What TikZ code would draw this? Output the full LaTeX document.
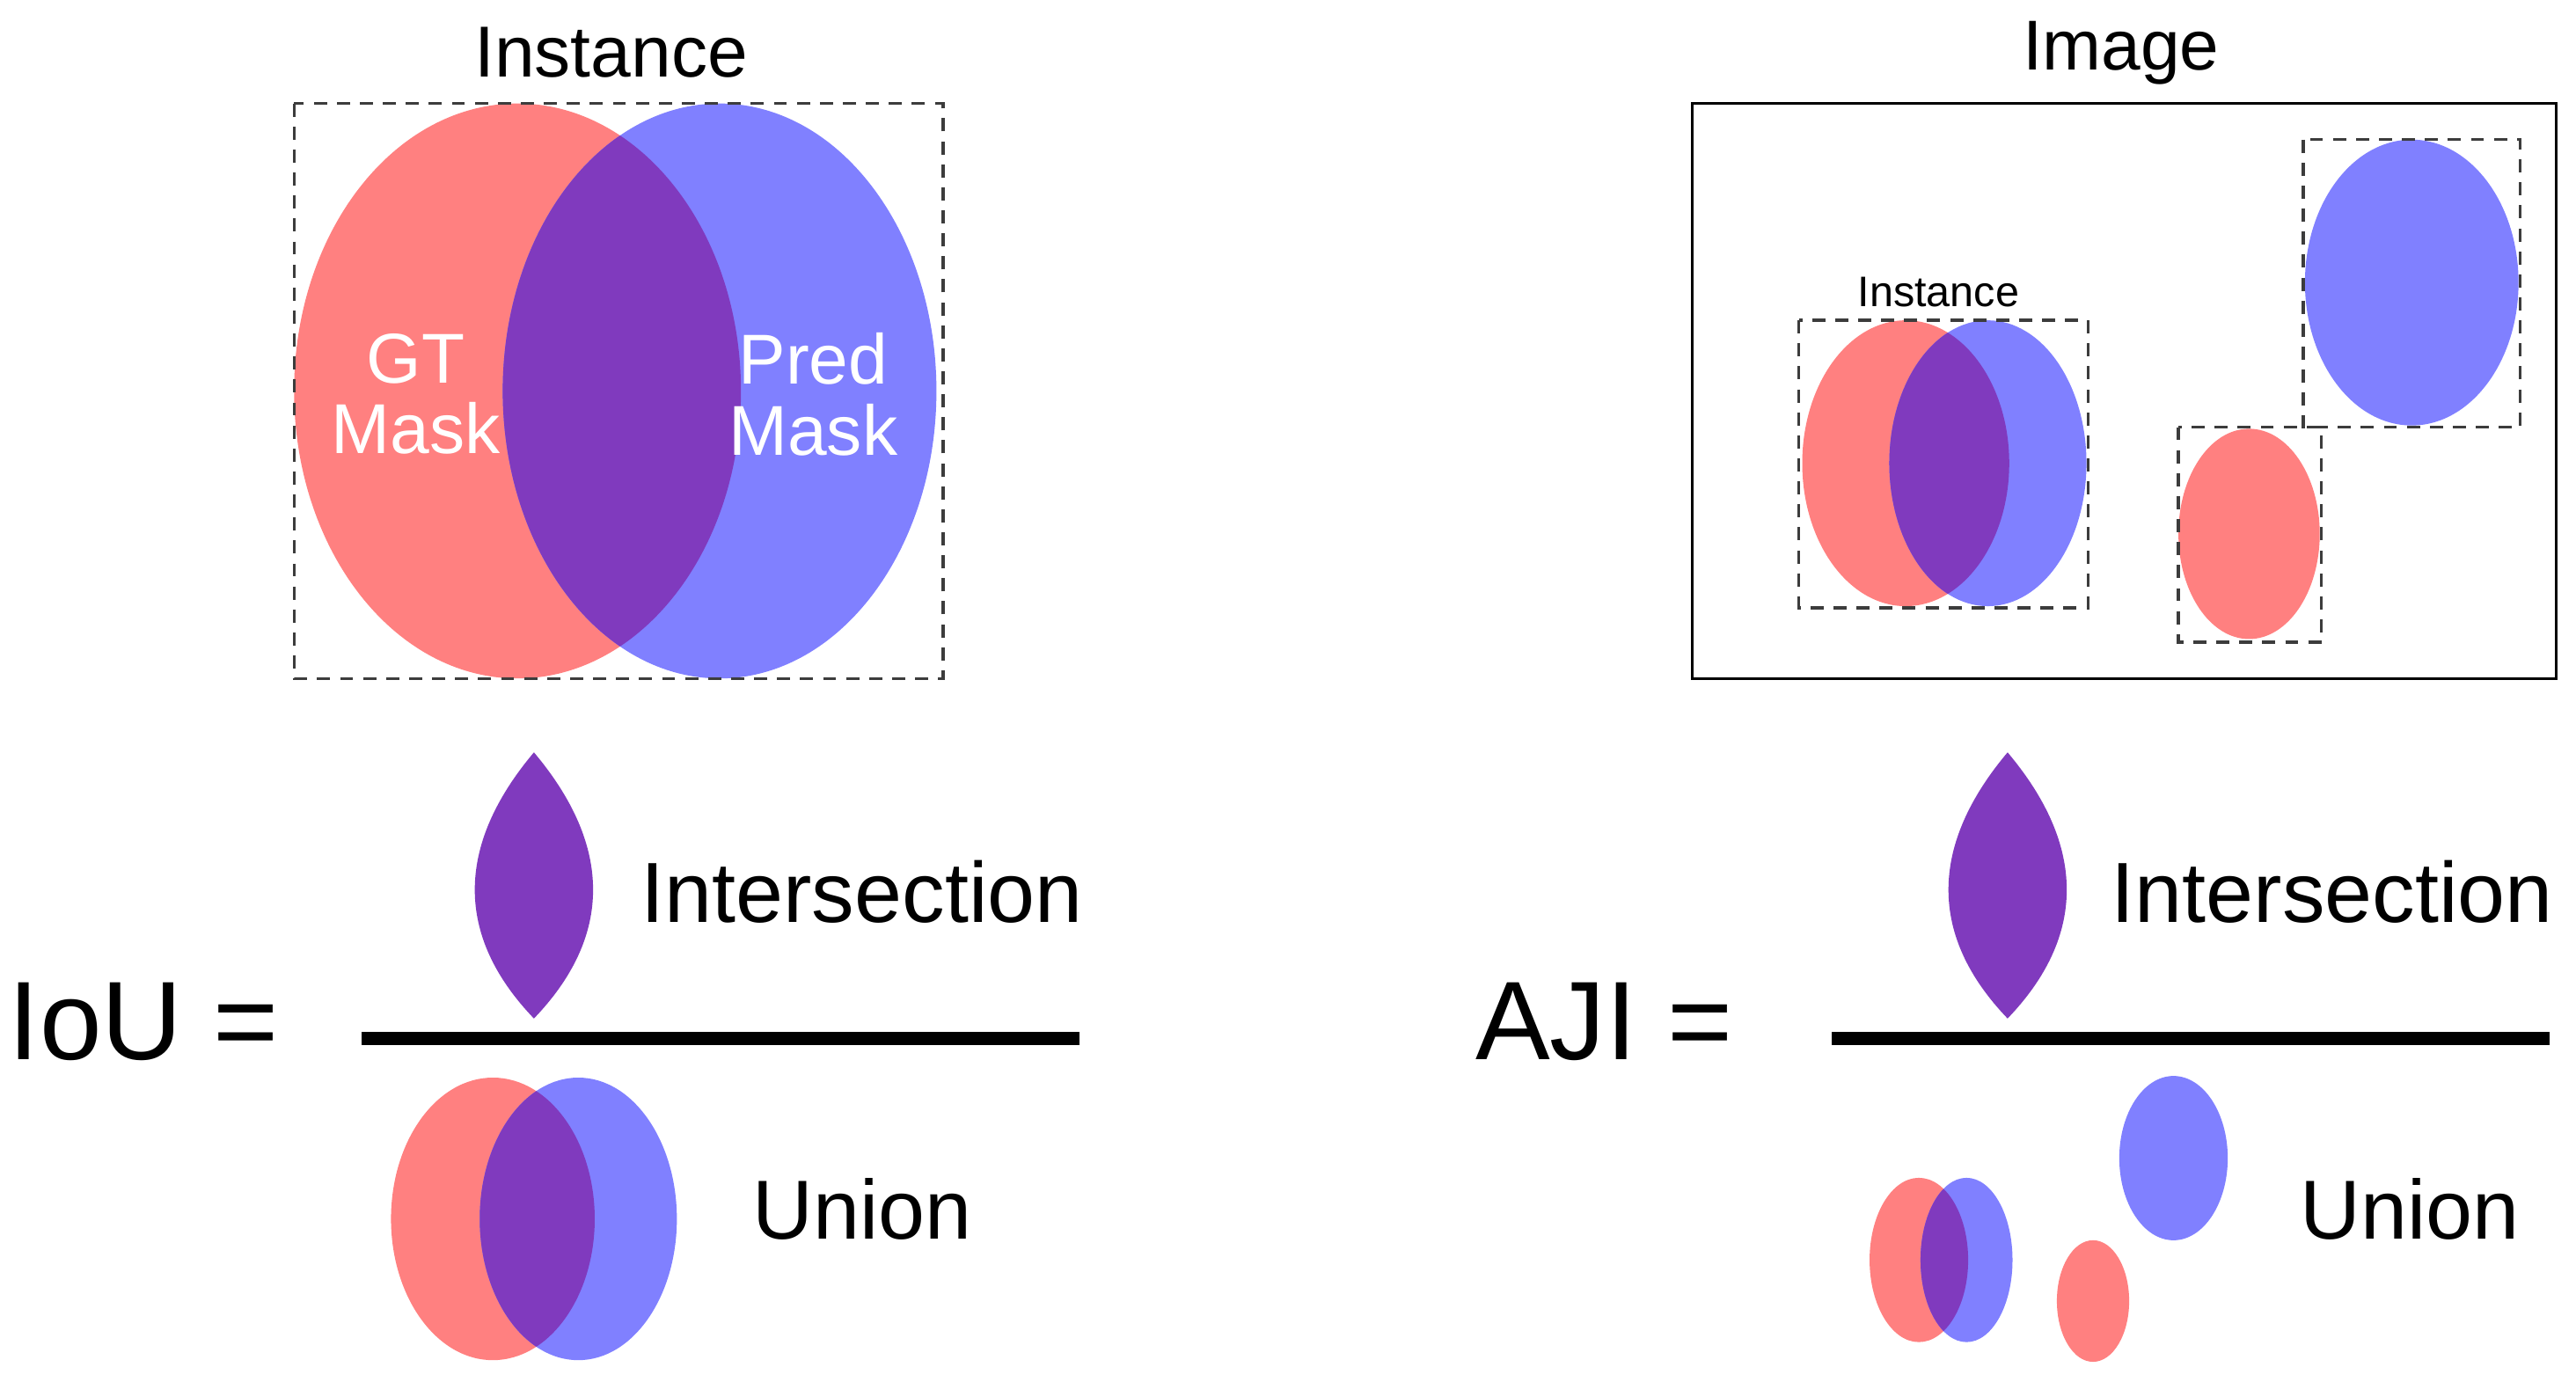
\documentclass[tikz,border=0pt]{standalone}
\usepackage{fontspec}
\setmainfont{Liberation Sans}
\begin{document}
\begin{tikzpicture}[x=1pt,y=-1pt,
 red/.style={fill={rgb,255:red,255;green,128;blue,128}},
 blu/.style={fill={rgb,255:red,128;green,128;blue,255}},
 pur/.style={fill={rgb,255:red,128;green,58;blue,190}},
 dbox/.style={draw={rgb,255:red,60;green,60;blue,60},line width=1.8pt,dash pattern=on 8pt off 6pt},
 fs/.style={font=\fontsize{#1}{#1}\selectfont, inner sep=0pt}]
\useasboundingbox (0,0) rectangle (1568,841);
\newcommand{\venn}[6]{% red cx, blue cx, cy, rxr, rxb, ry
 \fill[red] (#1,#3) ellipse [x radius=#4, y radius=#6];
 \fill[blu] (#2,#3) ellipse [x radius=#5, y radius=#6];
 \begin{scope}\clip (#1,#3) ellipse [x radius=#4, y radius=#6];
 \fill[pur] (#2,#3) ellipse [x radius=#5, y radius=#6];\end{scope}}
\newcommand{\lens}[1]{\fill[pur] (#1,458) .. controls (#1-48,515) and (#1-48,570) .. (#1,620) .. controls (#1+48,570) and (#1+48,515) .. (#1,458) -- cycle;}
% left
\node[fs=44] (tinst) at (372,32) {Instance};
\venn{315}{438}{238}{136}{132}{175}
\draw[dbox] (179,63) rectangle (574,413);
\node[fs=43,text=white,align=center] (gt) at (253,240) {GT\\Mask};
\node[fs=43,text=white,align=center] (pd) at (495,240) {Pred\\Mask};
\lens{325}
\draw[line width=8pt] (220,632) -- (657,632);
\node[fs=68,anchor=west] (iou) at (5,622) {IoU =};
\node[fs=52,anchor=west] (i1) at (390,543) {Intersection};
\node[fs=51,anchor=west] (u1) at (458,736) {Union};
\venn{300}{352}{742}{62}{60}{86}
% right
\node[fs=43] (timg) at (1291,32) {Image};
\draw[line width=1.8pt] (1030,63) rectangle (1556,413);
\venn{1160}{1210}{282}{63}{60}{87}
\draw[dbox] (1095,195) rectangle (1271,370);
\node[fs=26] (sinst) at (1180,178) {Instance};
\fill[blu] (1468,172) ellipse [x radius=65, y radius=87];
\draw[dbox] (1402,85) rectangle (1534,260);
\fill[red] (1369,325) ellipse [x radius=43, y radius=64];
\draw[dbox] (1326,260) rectangle (1413,391);
\lens{1222}
\draw[line width=8pt] (1115,632) -- (1552,632);
\node[fs=68,anchor=west] (aji) at (898,622) {AJI =};
\node[fs=52,anchor=west] (i2) at (1285,543) {Intersection};
\node[fs=51,anchor=west] (u2) at (1400,736) {Union};
\venn{1168}{1197}{767}{30}{28}{50}
\fill[blu] (1323,705) ellipse [x radius=33, y radius=50];
\fill[red] (1274,792) ellipse [x radius=22, y radius=37];
\end{tikzpicture}
\end{document}
